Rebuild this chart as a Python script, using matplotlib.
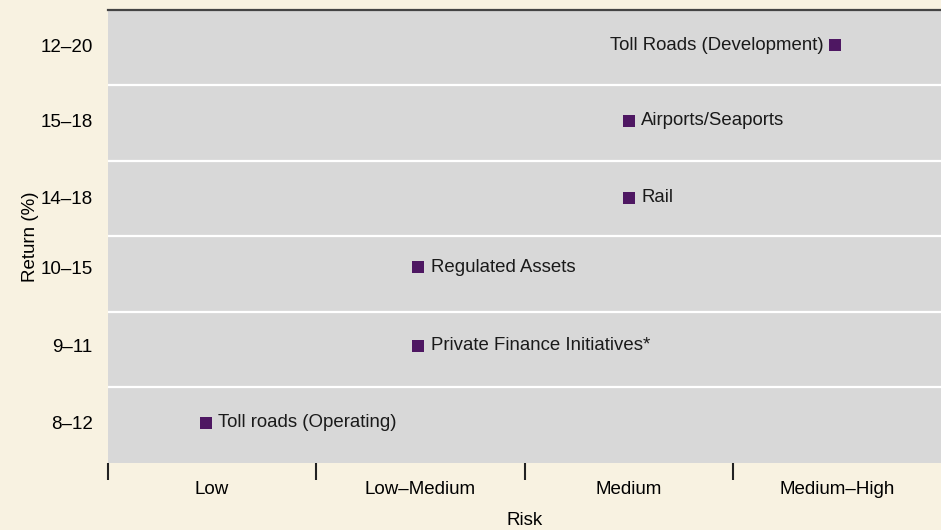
"""
Risk vs return of infrastructure asset classes: a categorical scatter on
grey bands, one band per return range.
"""

import matplotlib
matplotlib.use("Agg")
import matplotlib.pyplot as plt

plt.rcParams["font.family"] = ["Liberation Sans", "DejaVu Sans"]

# Data
risk_levels = ["Low", "Low–Medium", "Medium", "Medium–High"]
return_ranges = ["8–12", "9–11", "10–15", "14–18", "15–18", "12–20"]
assets = [
    "Toll roads (Operating)",
    "Private Finance Initiatives*",
    "Regulated Assets",
    "Rail",
    "Airports/Seaports",
    "Toll Roads (Development)",
]
# position on the risk scale (0-4, one unit per risk level) and the return band (0-6)
asset_risk = [0.47, 1.49, 1.49, 2.50, 2.50, 3.49]
asset_return = [0.53, 1.55, 2.59, 3.51, 4.53, 5.53]

CREAM = "#F8F2E1"
GREY = "#D8D8D8"
PURPLE = "#4E1762"

fig = plt.figure(figsize=(9.41, 5.30), dpi=100, facecolor=CREAM)
ax = fig.add_axes([108 / 941, 1 - 463 / 530, 1 - 108 / 941, (463 - 9.5) / 530])
ax.set_facecolor(GREY)

ax.scatter(asset_risk, asset_return, marker="s", s=72, color=PURPLE, zorder=3, linewidths=0)

for name, x, y in zip(assets, asset_risk, asset_return):
    # the top-right label sits to the left of its marker
    left = name == "Toll Roads (Development)"
    ax.annotate(name, (x, y), xytext=(-8 if left else 9, 0), textcoords="offset points",
                ha="right" if left else "left", va="center", fontsize=13.4, color="#1a1a1a")

# white separators between return bands
for b in range(1, len(return_ranges)):
    ax.axhline(b, color="white", lw=1.6, zorder=1)

ax.set_xlim(0, len(risk_levels))
ax.set_ylim(0, len(return_ranges))

# tick marks on the band edges, labels centred between them
ax.set_xticks(range(len(risk_levels)))
ax.set_xticklabels([])
ax.set_xticks([i + 0.5 for i in range(len(risk_levels))], minor=True)
ax.set_xticklabels(risk_levels, minor=True, fontsize=13.5)
ax.tick_params(axis="x", which="major", length=12, width=1.5, color="#222222")
ax.tick_params(axis="x", which="minor", length=0, pad=13)

ax.set_yticks(asset_return)
ax.set_yticklabels(return_ranges, fontsize=13.5)
ax.tick_params(axis="y", length=0, pad=11)

ax.set_xlabel("Risk", fontsize=13.5, labelpad=10)
ax.set_ylabel("Return (%)", fontsize=13.5, labelpad=1)

for side in ["left", "right", "bottom"]:
    ax.spines[side].set_visible(False)
ax.spines["top"].set_color("#444444")
ax.spines["top"].set_linewidth(1.6)

fig.savefig("out.png", dpi=100, facecolor=CREAM)
